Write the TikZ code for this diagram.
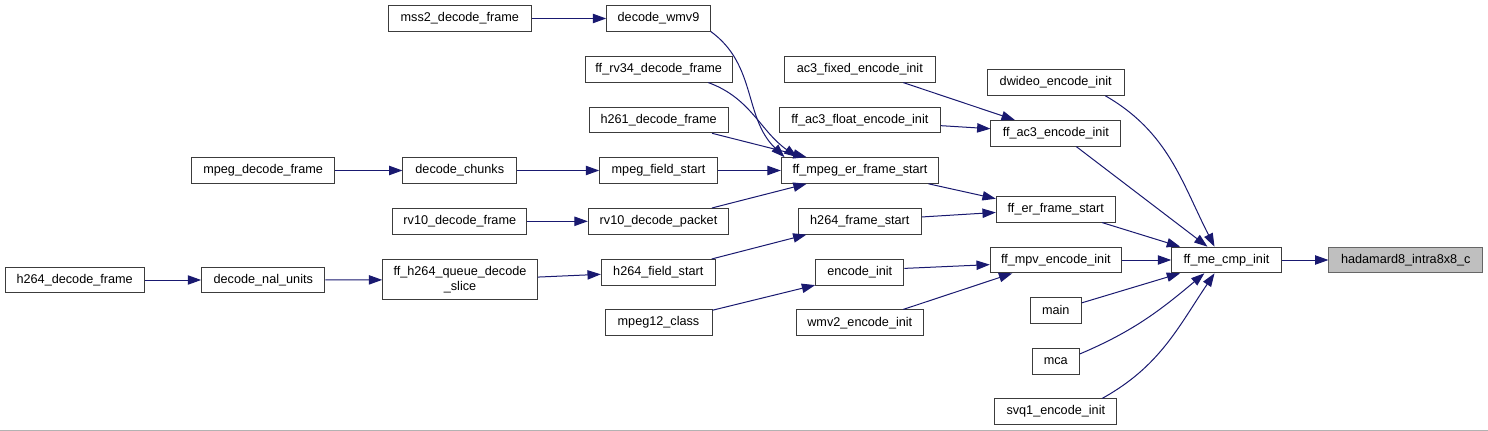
\documentclass[tikz,border=0pt]{standalone}
\usepackage{fontspec}
\setmainfont{Liberation Sans}
\usetikzlibrary{arrows.meta}
\definecolor{edgeblue}{RGB}{25,25,112}
\definecolor{boxline}{RGB}{60,60,60}

\begin{document}
\begin{tikzpicture}[x=0.75pt,y=0.75pt,font=\fontsize{9.5}{11}\selectfont,>={Triangle[length=10pt,width=7pt]},
 fn/.style={draw=boxline,line width=0.75pt,fill=white,inner sep=0pt,minimum height=19.2pt,align=center},
 wd/.style={minimum width=#1*0.75pt},
 call/.style={->,draw=edgeblue,line width=0.75pt}]
\useasboundingbox (0,-431) rectangle (1488,0);
\fill[white] (0,-431) rectangle (1488,0);
\draw[black!30,line width=0.75pt] (0,-430.5)--(1488,-430.5);
% callers, left to right
\node[fn,wd=139.3] (h264df) at (74.7,-280) {h264\_decode\_frame};
\node[fn,wd=143] (mpegdf) at (263.2,-170.5) {mpeg\_decode\_frame};
\node[fn,wd=123.3] (nal) at (263.3,-280) {decode\_nal\_units};
\node[fn,wd=143.5] (mss2) at (459.8,-18.5) {mss2\_decode\_frame};
\node[fn,wd=113.7] (chunks) at (459.8,-170.5) {decode\_chunks};
\node[fn,wd=133.7] (rv10df) at (459.8,-221.3) {rv10\_decode\_frame};
\node[fn,wd=154.6,minimum height=30.2pt] (slice) at (460,-279.8) {ff\_h264\_queue\_decode\\\_slice};
\node[fn,wd=103.6] (wmv9) at (658.5,-18.5) {decode\_wmv9};
\node[fn,wd=146.7] (rv34) at (658.7,-69.3) {ff\_rv34\_decode\_frame};
\node[fn,wd=139.3] (h261) at (658.7,-120) {h261\_decode\_frame};
\node[fn,wd=117.6] (mpegfs) at (658.5,-170.5) {mpeg\_field\_start};
\node[fn,wd=140.4] (rv10pk) at (658.5,-221.3) {rv10\_decode\_packet};
\node[fn,wd=114] (h264fls) at (658.3,-272.3) {h264\_field\_start};
\node[fn,wd=107] (mpeg12) at (658.5,-322.7) {mpeg12\_class};
\node[fn,wd=151] (ac3fix) at (859.8,-69.3) {ac3\_fixed\_encode\_init};
\node[fn,wd=161] (ac3flt) at (859.8,-120) {ff\_ac3\_float\_encode\_init};
\node[fn,wd=157.4] (mpeger) at (860,-170.5) {ff\_mpeg\_er\_frame\_start};
\node[fn,wd=123] (h264frs) at (859.8,-221.3) {h264\_frame\_start};
\node[fn,wd=88.3] (encinit) at (859.8,-272.3) {encode\_init};
\node[fn,wd=127] (wmv2) at (859.8,-322.7) {wmv2\_encode\_init};
\node[fn,wd=136.7] (dwideo) at (1055.7,-82.5) {dwideo\_encode\_init};
\node[fn,wd=129.7] (ac3enc) at (1055.8,-133.3) {ff\_ac3\_encode\_init};
\node[fn,wd=119] (erstart) at (1055.8,-209.3) {ff\_er\_frame\_start};
\node[fn,wd=131] (mpvenc) at (1055.8,-260) {ff\_mpv\_encode\_init};
\node[fn,wd=51] (main) at (1055.8,-310.3) {main};
\node[fn,wd=47] (mca) at (1055.8,-361.3) {mca};
\node[fn,wd=121.7] (svq1) at (1055.8,-411.7) {svq1\_encode\_init};
\node[fn,wd=109.6] (mecmp) at (1226.5,-260) {ff\_me\_cmp\_init};
\node[fn,wd=153.7,fill=black!25,draw=black!60] (hadamard) at (1405.8,-260) {hadamard8\_intra8x8\_c};
% calls
\draw[call] (mss2)--(wmv9);
\draw[call] (wmv9.-14) to[out=-36,in=136] (mpeger.170);
\draw[call] (rv34.-15) to[out=-20,in=145] (mpeger.168);
\draw[call] (h261.-14)--(mpeger.166);
\draw[call] (mpegfs)--(mpeger);
\draw[call] (rv10pk.14)--(mpeger.194);
\draw[call] (mpegdf)--(chunks);
\draw[call] (chunks)--(mpegfs);
\draw[call] (rv10df)--(rv10pk);
\draw[call] (h264df)--(nal);
\draw[call] (nal)--(slice);
\draw[call] (slice.2)--(h264fls.182);
\draw[call] (h264fls.14)--(h264frs.194);
\draw[call] (mpeg12.13)--(encinit.196);
\draw[call] (mpeger.-11)--(erstart.170);
\draw[call] (h264frs.4)--(erstart.183);
\draw[call] (ac3fix.-17)--(ac3enc.162);
\draw[call] (ac3flt.-4)--(ac3enc.176);
\draw[call] (encinit.5)--(mpvenc.184);
\draw[call] (wmv2.17)--(mpvenc.197);
\draw[call] (dwideo.-15) to[out=-30,in=117] (mecmp.132);
\draw[call] (ac3enc.-33)--(mecmp.145);
\draw[call] (erstart.-16)--(mecmp.164);
\draw[call] (mpvenc)--(mecmp);
\draw[call] (main.16)--(mecmp.196);
\draw[call] (mca.17) to[out=23,in=-140] (mecmp.211);
\draw[call] (svq1.16) to[out=29,in=-124] (mecmp.228);
\draw[call] (mecmp)--(hadamard);
\end{tikzpicture}
\end{document}
